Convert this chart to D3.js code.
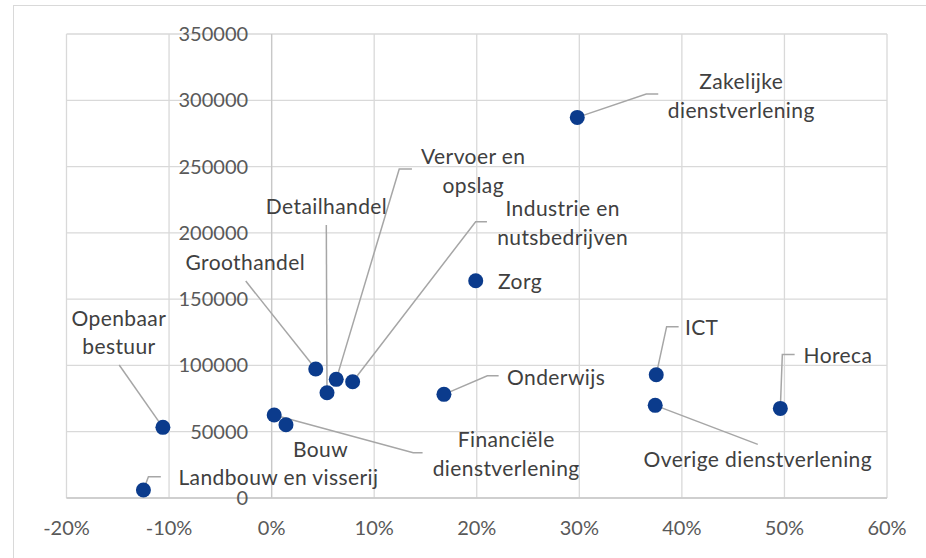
<html>
<head>
<meta charset="utf-8">
<style>
  body { margin: 0; background: #fff; }
  text { font-family: Lato, "Open Sans", sans-serif; }
</style>
</head>
<body>
<svg id="chart" width="926" height="558"></svg>

<script src="https://d3js.org/d3.v7.min.js"></script>
<script>
// data: growth (%) vs. number of jobs
var sectors = ["Zakelijke\ndienstverlening", "Vervoer en\nopslag", "Industrie en\nnutsbedrijven",
  "Detailhandel", "Groothandel", "Openbaar\nbestuur", "Landbouw en visserij", "Bouw",
  "Financiële\ndienstverlening", "Zorg", "Onderwijs", "ICT", "Horeca", "Overige dienstverlening"];
var growth = [29.8, 6.3, 7.9, 5.4, 4.3, -10.6, -12.5, 1.4, 0.25, 19.9, 16.8, 37.5, 49.6, 37.4];
var jobs = [287100, 89500, 87700, 79400, 97300, 53300, 6000, 55300, 62600, 163900, 78200, 93000, 67600, 69900];

var xTicks = [-20, -10, 0, 10, 20, 30, 40, 50, 60];
var yTicks = [0, 50000, 100000, 150000, 200000, 250000, 300000, 350000];

// label placement, pixel offsets from the point: label centre, leader line corner, leader tail
var labelOffset = [
  {lab: [164, -21.5], leader: [[69, -23.3], [81, -23.3]]},
  {lab: [137, -208], leader: [[63, -210.3], [75.7, -210.3]]},
  {lab: [210, -158.4], leader: [[123, -160], [134.3, -160]]},
  {lab: [-0.5, -186], leader: [[-0.7, -167.7]]},
  {lab: [-70.4, -106.3], leader: [[-70, -88]]},
  {lab: [-44, -94.8], leader: [[-43.7, -62.3]]},
  {lab: [135, -12], leader: [[5, -13.3], [17.4, -13.3]]},
  {lab: [34.5, 25.3], leader: null},
  {lab: [232, 39.3], leader: [[139, 37.7], [148.4, 37.7]]},
  {lab: [44.3, 1], leader: null},
  {lab: [112.2, -17], leader: [[43.4, -18.6], [54.7, -18.6]]},
  {lab: [45.4, -47.4], leader: [[10.4, -48], [22.4, -48]]},
  {lab: [57.6, -52.3], leader: [[2, -54], [14.3, -54]]},
  {lab: [102.6, 54.7], leader: [[102.6, 39]]}
];

var svg = d3.select('#chart');
var plotL = 66.5, plotR = 887, plotT = 34, plotB = 498;

var x = d3.scaleLinear().domain([-20, 60]).range([plotL, plotR]);
var y = d3.scaleLinear().domain([0, 350000]).range([plotB, plotT]);

// outer chart border
svg.append('rect').attr('x', 13.5).attr('y', 5.5).attr('width', 930).attr('height', 570)
  .attr('fill', 'none').attr('stroke', '#d9d9d9');

// gridlines
svg.append('g').selectAll('line').data(xTicks).enter().append('line')
  .attr('x1', d => x(d)).attr('x2', d => x(d)).attr('y1', plotT).attr('y2', plotB)
  .attr('stroke', '#d9d9d9').attr('stroke-width', 1.3);
svg.append('g').selectAll('line').data(yTicks).enter().append('line')
  .attr('x1', plotL).attr('x2', plotR).attr('y1', d => y(d)).attr('y2', d => y(d))
  .attr('stroke', '#d9d9d9').attr('stroke-width', 1.3);

// axes lines
svg.append('line').attr('x1', x(0)).attr('x2', x(0)).attr('y1', plotT).attr('y2', plotB)
  .attr('stroke', '#c8c8c8').attr('stroke-width', 1.3);
svg.append('line').attr('x1', plotL).attr('x2', plotR).attr('y1', y(0)).attr('y2', y(0))
  .attr('stroke', '#c8c8c8').attr('stroke-width', 1.3);

// tick labels
svg.append('g').selectAll('text').data(yTicks).enter().append('text')
  .attr('x', x(0) - 23.5).attr('y', d => y(d)).attr('dy', '0.35em')
  .attr('text-anchor', 'end').attr('fill', '#595959').attr('font-size', 20)
  .text(d => d);
svg.append('g').selectAll('text').data(xTicks).enter().append('text')
  .attr('x', d => x(d)).attr('y', 528).attr('dy', '0.35em')
  .attr('text-anchor', 'middle').attr('fill', '#595959').attr('font-size', 20)
  .text(d => d + '%');

var pts = sectors.map((s, i) => ({name: s, px: x(growth[i]), py: y(jobs[i]), o: labelOffset[i]}));

// leader lines
svg.append('g').selectAll('polyline').data(pts.filter(p => p.o.leader)).enter().append('polyline')
  .attr('points', p => [[p.px, p.py]].concat(p.o.leader.map(l => [p.px + l[0], p.py + l[1]])).join(' '))
  .attr('fill', 'none').attr('stroke', '#a6a6a6').attr('stroke-width', 1.5);

// points
svg.append('g').selectAll('circle').data(pts).enter().append('circle')
  .attr('cx', p => p.px).attr('cy', p => p.py).attr('r', 7.5)
  .attr('fill', '#0b3b8c');

// labels
var lab = svg.append('g').selectAll('text').data(pts).enter().append('text')
  .attr('text-anchor', 'middle').attr('fill', '#404040').attr('font-size', 21)
  .attr('letter-spacing', 0.4)
  .attr('x', p => p.px + p.o.lab[0])
  .attr('y', p => p.py + p.o.lab[1]);
lab.each(function(p) {
  var lines = p.name.split('\n');
  var t = d3.select(this);
  lines.forEach((l, k) => {
    t.append('tspan').attr('x', p.px + p.o.lab[0])
      .attr('dy', k === 0 ? (0.35 - (lines.length - 1) * 0.68) + 'em' : '1.36em')
      .text(l);
  });
});
</script>
</body>
</html>
